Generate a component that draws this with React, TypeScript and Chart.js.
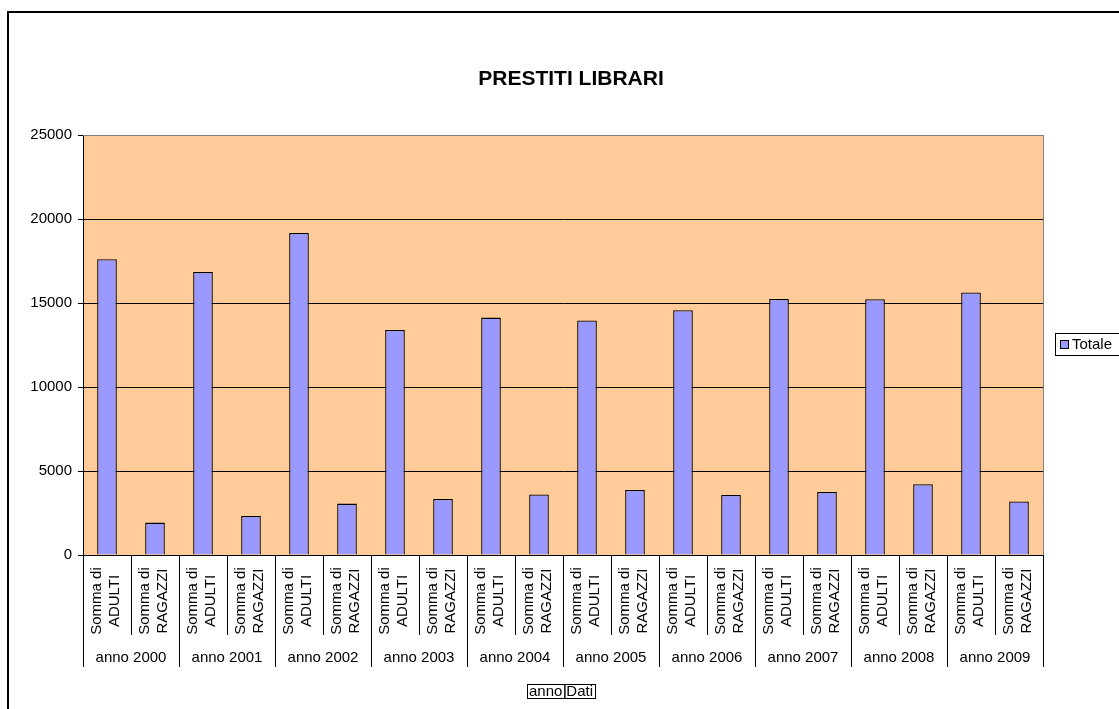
import React, { useEffect, useRef } from 'react';
import { Chart, registerables } from 'chart.js';

Chart.register(...registerables);

const chartTitle = 'PRESTITI LIBRARI';
const years = ['anno 2000', 'anno 2001', 'anno 2002', 'anno 2003', 'anno 2004', 'anno 2005', 'anno 2006', 'anno 2007', 'anno 2008', 'anno 2009'];
const measures = [['Somma di', 'ADULTI'], ['Somma di', 'RAGAZZI']];
const adulti = [17600, 16850, 19170, 13390, 14130, 13960, 14570, 15240, 15220, 15630];
const ragazzi = [1930, 2320, 3060, 3330, 3600, 3870, 3570, 3750, 4210, 3190];
const yMin = 0;
const yMax = 25000;
const yStep = 5000;
const seriesName = 'Totale';
const fieldButtons = ['anno', 'Dati'];

const FONT = "'Liberation Sans', Arial, sans-serif";

const labels: string[][] = [];
const values: number[] = [];
years.forEach((_, i) => {
  labels.push(measures[0]);
  values.push(adulti[i]);
  labels.push(measures[1]);
  values.push(ragazzi[i]);
});

const decorPlugin = {
  id: 'decor',
  beforeDraw(chart: any) {
    const { ctx, chartArea } = chart;
    ctx.save();
    ctx.fillStyle = '#ffffff';
    ctx.fillRect(0, 0, chart.width, chart.height);
    ctx.strokeStyle = '#000000';
    ctx.lineWidth = 2;
    ctx.strokeRect(8, 12, chart.width + 20, chart.height + 20);
    ctx.fillStyle = '#FFCC99';
    ctx.fillRect(chartArea.left, chartArea.top, chartArea.right - chartArea.left, chartArea.bottom - chartArea.top);
    ctx.restore();
  },
  afterDraw(chart: any) {
    const { ctx, chartArea } = chart;
    const xs = chart.scales.x;
    ctx.save();
    // plot border top/right
    ctx.strokeStyle = '#808080';
    ctx.lineWidth = 1;
    ctx.beginPath();
    ctx.moveTo(chartArea.left, Math.round(chartArea.top) + 0.5);
    ctx.lineTo(chartArea.right, Math.round(chartArea.top) + 0.5);
    ctx.moveTo(Math.round(chartArea.right) + 0.5, chartArea.top);
    ctx.lineTo(Math.round(chartArea.right) + 0.5, chartArea.bottom);
    ctx.stroke();

    // title
    ctx.fillStyle = '#000';
    ctx.font = `bold 21px ${FONT}`;
    ctx.textAlign = 'center';
    ctx.textBaseline = 'middle';
    ctx.fillText(chartTitle, 571, 79);

    // category separators
    const n = labels.length;
    const cw = (chartArea.right - chartArea.left) / n;
    ctx.strokeStyle = '#000';
    ctx.lineWidth = 1;
    ctx.beginPath();
    for (let k = 0; k <= n; k++) {
      const x = Math.round(chartArea.left + cw * k) + 0.5;
      const isGroup = k % 2 === 0;
      ctx.moveTo(x, chartArea.bottom);
      ctx.lineTo(x, isGroup ? 667 : 635);
    }
    ctx.stroke();

    // rotated measure labels
    ctx.font = `15px ${FONT}`;
    ctx.fillStyle = '#000';
    for (let i = 0; i < n; i++) {
      const cx = xs.getPixelForValue(i);
      ctx.save();
      ctx.translate(cx, 601);
      ctx.rotate(-Math.PI / 2);
      ctx.textAlign = 'center';
      ctx.textBaseline = 'middle';
      ctx.fillText(labels[i][0], 0, -10);
      ctx.fillText(labels[i][1], 0, 8);
      ctx.restore();
    }

    // group labels
    ctx.textAlign = 'center';
    ctx.textBaseline = 'middle';
    years.forEach((y, g) => {
      const cx = chartArea.left + cw * (2 * g + 1);
      ctx.fillText(y, cx, 658);
    });

    // legend
    ctx.strokeStyle = '#000';
    ctx.strokeRect(1055.5, 333.5, 80, 22);
    ctx.fillStyle = '#9999FF';
    ctx.fillRect(1060, 340, 9, 9);
    ctx.strokeRect(1060.5, 340.5, 8, 8);
    ctx.fillStyle = '#000';
    ctx.textAlign = 'left';
    ctx.fillText(seriesName, 1072, 345);

    // field buttons
    let bx = 527;
    ctx.font = `15px ${FONT}`;
    fieldButtons.forEach((b) => {
      const w = ctx.measureText(b).width + 4;
      ctx.strokeRect(bx + 0.5, 684.5, w, 14);
      ctx.fillText(b, bx + 2, 692);
      bx += w;
    });
    ctx.restore();
  },
};

export default function App() {
  const ref = useRef<HTMLCanvasElement>(null);
  useEffect(() => {
    if (!ref.current) return;
    const chart = new Chart(ref.current, {
      type: 'bar',
      data: {
        labels,
        datasets: [
          {
            label: seriesName,
            data: values,
            backgroundColor: '#9999FF',
            borderColor: '#000000',
            borderWidth: 1.3,
            barPercentage: 0.41,
            categoryPercentage: 1,
          },
        ],
      },
      options: {
        responsive: false,
        maintainAspectRatio: false,
        animation: false,
        devicePixelRatio: 1,
        layout: { padding: { left: 8, top: 135, right: 76, bottom: 154 } },
        plugins: {
          legend: { display: false },
          title: { display: false },
          tooltip: { enabled: false },
        },
        scales: {
          x: { display: false },
          y: {
            min: yMin,
            max: yMax,
            ticks: {
              stepSize: yStep,
              color: '#000',
              font: { family: FONT, size: 15 },
              padding: 6,
              callback: (v: any) => String(v),
            },
            grid: {
              color: (c: any) => (c.tick && c.tick.value === yMax ? '#808080' : '#000000'),
              tickColor: '#000000',
              tickLength: 5,
              lineWidth: 1,
            },
            border: { color: '#000000' },
            afterFit: (scale: any) => {
              scale.width = 75;
            },
          },
        },
      },
      plugins: [decorPlugin],
    });
    return () => chart.destroy();
  }, []);
  return (
    <div style={{ position: 'fixed', left: 0, top: 0, width: 1119, height: 709 }}>
      <canvas ref={ref} width={1119} height={709} style={{ display: 'block' }} />
    </div>
  );
}
